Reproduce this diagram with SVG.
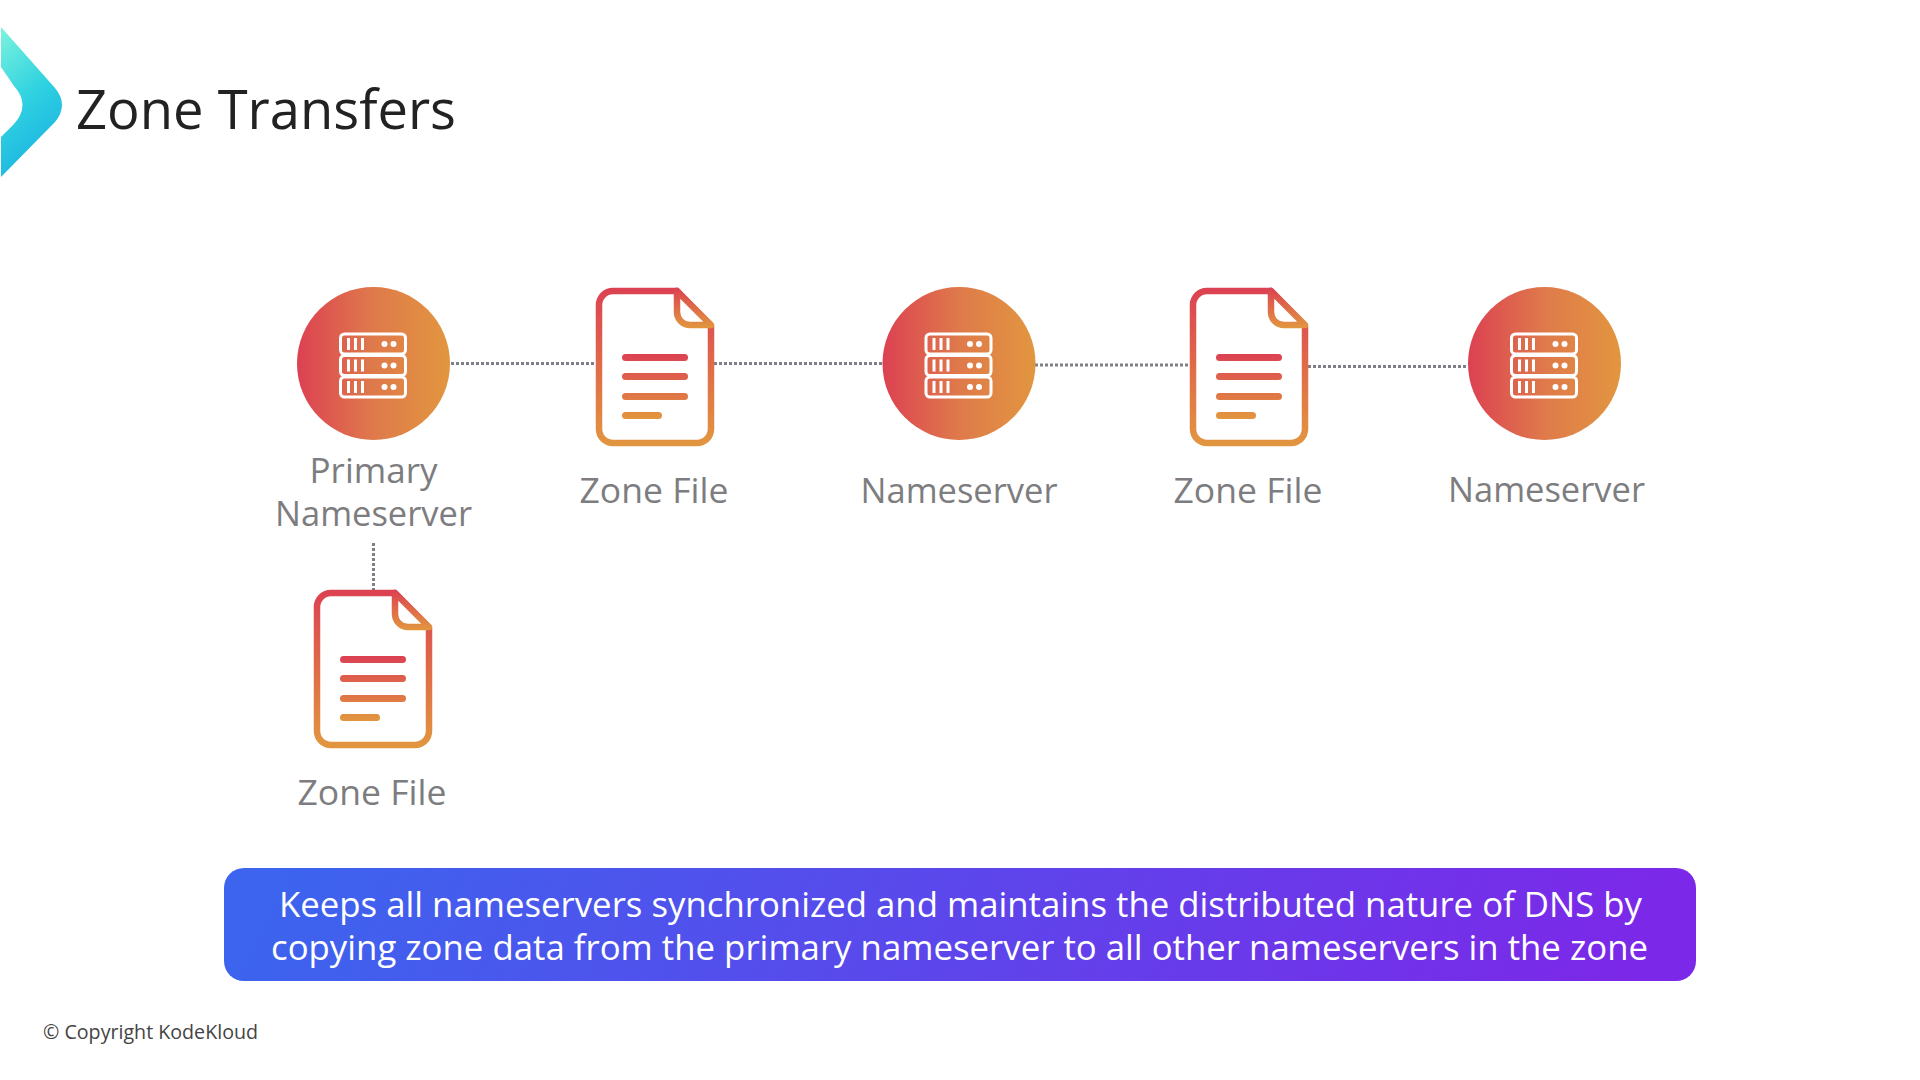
<svg xmlns="http://www.w3.org/2000/svg" width="1920" height="1080" viewBox="0 0 1920 1080">
<defs>
<linearGradient id="cg" x1="0" y1="0" x2="1" y2="0"><stop offset="0" stop-color="#dc4152"/><stop offset="0.5" stop-color="#df7a4b"/><stop offset="1" stop-color="#e2963f"/></linearGradient>
<linearGradient id="dg" gradientUnits="userSpaceOnUse" x1="0" y1="0" x2="0" y2="158"><stop offset="0" stop-color="#dc4152"/><stop offset="1" stop-color="#e2963f"/></linearGradient>
<linearGradient id="fg" gradientUnits="userSpaceOnUse" x1="0" y1="0" x2="0" y2="40"><stop offset="0" stop-color="#dc4152"/><stop offset="1" stop-color="#e2963f"/></linearGradient>
<linearGradient id="lg" gradientUnits="userSpaceOnUse" x1="0" y1="66" x2="0" y2="131"><stop offset="0" stop-color="#dc4152"/><stop offset="1" stop-color="#e2963f"/></linearGradient>
<linearGradient id="banner" gradientUnits="userSpaceOnUse" x1="400" y1="640" x2="1510" y2="1210"><stop offset="0" stop-color="#3c64ee"/><stop offset="1" stop-color="#7c28e8"/></linearGradient>
<linearGradient id="logo" x1="0" y1="0" x2="0.35" y2="1"><stop offset="0" stop-color="#7df3de"/><stop offset="0.55" stop-color="#2fd2e0"/><stop offset="1" stop-color="#1cb4e2"/></linearGradient>
<g id="doc">
<path d="M81 3 L115 38 V141 a14 14 0 0 1 -14 14 H17 a14 14 0 0 1 -14 -14 V17 a14 14 0 0 1 14 -14 Z" fill="#fff" stroke="url(#dg)" stroke-width="6.500" stroke-linejoin="round"/>
<path d="M81 3 V24 a13 13 0 0 0 13 13 H115 Z" fill="#fff" stroke="url(#fg)" stroke-width="6.500" stroke-linejoin="round"/>
<rect x="26" y="66" width="66" height="7" rx="3.500" fill="url(#lg)"/>
<rect x="26" y="85" width="66" height="7" rx="3.500" fill="url(#lg)"/>
<rect x="26" y="105" width="66" height="7" rx="3.500" fill="url(#lg)"/>
<rect x="26" y="124" width="40" height="7" rx="3.500" fill="url(#lg)"/>
</g>
<g id="row">
<rect x="-33" y="-10" width="65" height="20" rx="4" fill="none" stroke="#fff" stroke-width="3"/>
<path d="M-25 -6V6M-18 -6V6M-11 -6V6" stroke="#fff" stroke-width="3" fill="none"/>
<circle cx="11" cy="0" r="3" fill="#fff"/><circle cx="20" cy="0" r="3" fill="#fff"/>
</g>
<g id="srv">
<circle cx="0" cy="0" r="76.500" fill="url(#cg)"/>
<use href="#row" y="-19.500"/><use href="#row" y="2"/><use href="#row" y="23.500"/>
</g>
</defs>
<style>
text{font-family:"Open Sans","Noto Sans","Liberation Sans",sans-serif}
.l{font-size:35px;fill:#7d7d80;text-anchor:middle}
.b{font-size:35px;fill:#fff}
.c{stroke:#7d8087;stroke-width:3;stroke-dasharray:3 2;fill:none}
</style>
<rect width="1920" height="1080" fill="#fff"/>
<g id="logo-mark"><path d="M1 27 L55 88 Q69 105 55 122 L1 177 V137 L14 124 Q31 105 14 86 L1 67 Z" fill="url(#logo)"/></g>
<text id="title" x="76" y="129" font-size="54" fill="#222" textLength="380" lengthAdjust="spacingAndGlyphs">Zone Transfers</text>
<g id="connectors">
<path class="c" d="M451 363.500H596"/>
<path class="c" d="M714 363.500H883"/>
<path class="c" d="M1035 365H1190"/>
<path class="c" d="M1308 366.500H1468"/>
<path class="c" d="M373.500 543V590"/>
</g>
<g id="n1"><use href="#srv" x="373.500" y="363.500"/><text class="l" x="373.500" y="483" textLength="128" lengthAdjust="spacingAndGlyphs">Primary</text><text class="l" x="373.500" y="526" textLength="197" lengthAdjust="spacingAndGlyphs">Nameserver</text></g>
<g id="f1"><use href="#doc" x="596" y="288"/><text class="l" x="654" y="503" textLength="149" lengthAdjust="spacingAndGlyphs">Zone File</text></g>
<g id="n2"><use href="#srv" x="959" y="363.500"/><text class="l" x="959" y="503" textLength="197" lengthAdjust="spacingAndGlyphs">Nameserver</text></g>
<g id="f2"><use href="#doc" x="1190" y="288"/><text class="l" x="1248" y="503" textLength="149" lengthAdjust="spacingAndGlyphs">Zone File</text></g>
<g id="n3"><use href="#srv" x="1544.500" y="363.500"/><text class="l" x="1546.500" y="502" textLength="197" lengthAdjust="spacingAndGlyphs">Nameserver</text></g>
<g id="f0"><use href="#doc" x="314" y="590"/><text class="l" x="372" y="805" textLength="149" lengthAdjust="spacingAndGlyphs">Zone File</text></g>
<g id="banner-box"><rect x="224" y="868" width="1472" height="113" rx="20" fill="url(#banner)"/>
<text class="b" x="279" y="917" textLength="1363" lengthAdjust="spacingAndGlyphs">Keeps all nameservers synchronized and maintains the distributed nature of DNS by</text>
<text class="b" x="271" y="960" textLength="1377" lengthAdjust="spacingAndGlyphs">copying zone data from the primary nameserver to all other nameservers in the zone</text></g>
<text id="copyright" x="43" y="1039" font-size="20" fill="#444" textLength="215" lengthAdjust="spacingAndGlyphs">© Copyright KodeKloud</text>
</svg>
